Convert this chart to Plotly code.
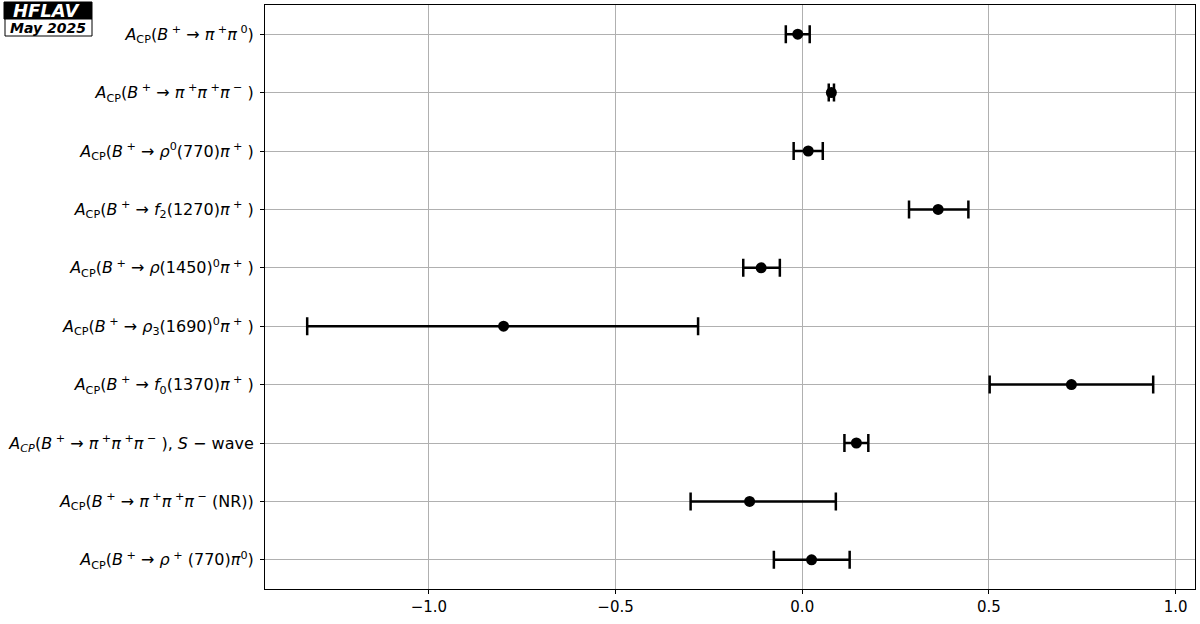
import plotly.graph_objects as go

labels = [
    "<i>A</i><sub>CP</sub>(<i>B</i><sup> +</sup> → <i>π</i><sup> +</sup><i>π</i><sup> 0</sup>)",
    "<i>A</i><sub>CP</sub>(<i>B</i><sup> +</sup> → <i>π</i><sup> +</sup><i>π</i><sup> +</sup><i>π</i><sup> −</sup> )",
    "<i>A</i><sub>CP</sub>(<i>B</i><sup> +</sup> → <i>ρ</i><sup>0</sup>(770)<i>π</i><sup> +</sup> )",
    "<i>A</i><sub>CP</sub>(<i>B</i><sup> +</sup> → <i>f</i><sub>2</sub>(1270)<i>π</i><sup> +</sup> )",
    "<i>A</i><sub>CP</sub>(<i>B</i><sup> +</sup> → <i>ρ</i>(1450)<sup>0</sup><i>π</i><sup> +</sup> )",
    "<i>A</i><sub>CP</sub>(<i>B</i><sup> +</sup> → <i>ρ</i><sub>3</sub>(1690)<sup>0</sup><i>π</i><sup> +</sup> )",
    "<i>A</i><sub>CP</sub>(<i>B</i><sup> +</sup> → <i>f</i><sub>0</sub>(1370)<i>π</i><sup> +</sup> )",
    "<i>A</i><sub><i>CP</i></sub>(<i>B</i><sup> +</sup> → <i>π</i><sup> +</sup><i>π</i><sup> +</sup><i>π</i><sup> −</sup> ), <i>S</i> − wave",
    "<i>A</i><sub>CP</sub>(<i>B</i><sup> +</sup> → <i>π</i><sup> +</sup><i>π</i><sup> +</sup><i>π</i><sup> −</sup> (NR))",
    "<i>A</i><sub>CP</sub>(<i>B</i><sup> +</sup> → <i>ρ</i><sup> +</sup> (770)<i>π</i><sup>0</sup>)",
]
values = [-0.012, 0.078, 0.016, 0.364, -0.110, -0.800, 0.721, 0.145, -0.141, 0.025]
err_plus = [0.032, 0.007, 0.039, 0.081, 0.050, 0.521, 0.219, 0.032, 0.231, 0.102]
err_minus = [0.032, 0.007, 0.039, 0.078, 0.048, 0.526, 0.219, 0.032, 0.158, 0.101]

fig = go.Figure()
fig.add_trace(go.Scatter(
    x=values, y=labels, mode="markers",
    marker=dict(color="black", size=11),
    error_x=dict(type="data", symmetric=False, array=err_plus, arrayminus=err_minus,
                 color="black", thickness=2.5, width=9),
    showlegend=False,
))

axis_common = dict(showline=True, linecolor="black", linewidth=1, mirror=True,
                   ticks="outside", ticklen=4, tickcolor="black",
                   showgrid=True, gridcolor="#b0b0b0", gridwidth=1, zeroline=False)

fig.update_xaxes(range=[-1.439, 1.052], dtick=0.5, tick0=0, tickformat=".1f",
                 tickfont=dict(family="DejaVu Sans", size=15, color="black"), **axis_common)
fig.update_yaxes(type="category", range=[9.5, -0.5], ticklabelstandoff=3,
                 tickfont=dict(family="DejaVu Sans", size=16, color="black"), **axis_common)

W, H = 1200, 624
L, R, T, B = 265, 5, 5, 35
pw, ph = W - L - R, H - T - B

def px(x):
    return (x - L) / pw

def py(y):
    return 1 - (y - T) / ph

fig.add_shape(type="rect", xref="paper", yref="paper", x0=px(4), x1=px(92), y0=py(19), y1=py(2),
              fillcolor="black", line=dict(color="black", width=1))
fig.add_shape(type="rect", xref="paper", yref="paper", x0=px(5), x1=px(92), y0=py(36), y1=py(19),
              fillcolor="white", line=dict(color="black", width=1))
fig.add_annotation(xref="paper", yref="paper", x=px(47), y=py(10.5), text="<b><i>HFLAV</i></b>",
                   showarrow=False, xanchor="center", yanchor="middle",
                   font=dict(family="DejaVu Sans", size=18, color="white"))
fig.add_annotation(xref="paper", yref="paper", x=px(48), y=py(28), text="<b><i>May 2025</i></b>",
                   showarrow=False, xanchor="center", yanchor="middle",
                   font=dict(family="DejaVu Sans", size=14, color="black"))

fig.update_layout(width=W, height=H, margin=dict(l=L, r=R, t=T, b=B),
                  plot_bgcolor="white", paper_bgcolor="white",
                  font=dict(family="DejaVu Sans", color="black"))

fig.write_html("out.html", config={"displayModeBar": False},
               post_script="document.body.style.margin='0';document.body.style.overflow='hidden';")
